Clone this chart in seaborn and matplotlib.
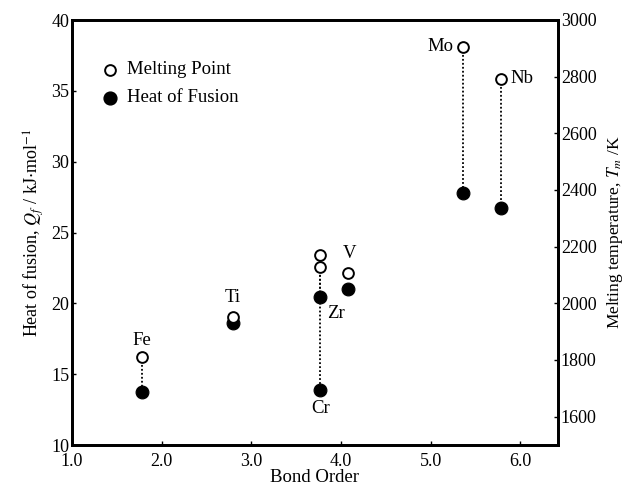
import matplotlib
matplotlib.use("Agg")
import matplotlib.pyplot as plt
import seaborn as sns
import pandas as pd

# ---- data ----
metals = ["Fe", "Ti", "Zr", "Cr", "V", "Mo", "Nb"]
bond_order = [1.78, 2.79, 3.77, 3.77, 4.08, 5.36, 5.78]
heat_of_fusion = [13.74, 18.61, 20.44, 13.88, 21.01, 27.78, 26.73]   # kJ/mol
melting_point = [1810, 1952, 2128, 2171, 2107, 2905, 2792]           # K
linked = ["Fe", "Zr", "Cr", "Mo", "Nb"]   # metals drawn with a dotted connector
x_ticks = [1.0, 2.0, 3.0, 4.0, 5.0, 6.0]
q_ticks = [10, 15, 20, 25, 30, 35, 40]
t_ticks = [1600, 1800, 2000, 2200, 2400, 2600, 2800, 3000]

df = pd.DataFrame({"metal": metals, "bond": bond_order,
                   "Q": heat_of_fusion, "T": melting_point})

sns.set_theme(style="ticks")
plt.rcParams["font.family"] = ["Liberation Serif", "DejaVu Serif"]
plt.rcParams["mathtext.fontset"] = "stix"
for k in ("text.color", "axes.labelcolor", "xtick.color", "ytick.color",
          "axes.edgecolor"):
    plt.rcParams[k] = "black"

fig = plt.figure(figsize=(6.24, 4.87), dpi=100)
ax = fig.add_axes([72/624, 1-445/487, (558-72)/624, (445-20)/487])
ax2 = ax.twinx()

QLIM = (10, 40)
TLIM = (1500, 3000)
ax.set_xlim(1.0, 6.42)
ax.set_ylim(*QLIM)
ax2.set_ylim(*TLIM)

def q_to_t(q):
    return TLIM[0] + (q - QLIM[0]) * (TLIM[1] - TLIM[0]) / (QLIM[1] - QLIM[0])

# dotted connectors
for _, r in df[df.metal.isin(linked)].iterrows():
    ax2.plot([r.bond, r.bond], [r["T"], q_to_t(r.Q)], ls=(0, (1, 1.2)),
             color="black", lw=1.3, zorder=1)

sns.scatterplot(data=df, x="bond", y="Q", ax=ax, s=85, color="black",
                edgecolor="black", linewidth=0.8, zorder=3, legend=False)
sns.scatterplot(data=df, x="bond", y="T", ax=ax2, s=60, facecolor="white",
                edgecolor="black", linewidth=1.4, zorder=4, legend=False)

LBL = 13.5
# element labels
offsets = {"Fe": (0, 12, "center"), "Ti": (0, 14, "center"),
           "Zr": (11, -11.5, "center"), "Cr": (0, -13, "center"),
           "V": (1, 14, "center"), "Mo": (-7, 0, "right"), "Nb": (7, 0, "left")}
for _, r in df.iterrows():
    dx, dy, ha = offsets[r.metal]
    if r.metal in ("Zr", "Cr"):
        src_ax, yv = ax, r.Q
    else:
        src_ax, yv = ax2, r["T"]
    src_ax.annotate(r.metal, (r.bond, yv), xytext=(dx, dy),
                    textcoords="offset points", ha=ha, va="center",
                    fontsize=LBL, zorder=5)

# legend (manual, frameless)
ax.scatter([0.078], [0.882], s=60, facecolor="white", edgecolor="black",
           linewidth=1.4, transform=ax.transAxes, clip_on=False, zorder=5)
ax.scatter([0.078], [0.816], s=85, color="black", transform=ax.transAxes,
           clip_on=False, zorder=5)
ax.text(0.113, 0.884, "Melting Point", transform=ax.transAxes, va="center",
        fontsize=LBL)
ax.text(0.113, 0.818, "Heat of Fusion", transform=ax.transAxes, va="center",
        fontsize=LBL)

ax.set_xticks(x_ticks)
ax.set_xticklabels([f"{v:.1f}" for v in x_ticks])
ax.set_yticks(q_ticks)
ax2.set_yticks(t_ticks)

for a in (ax, ax2):
    a.tick_params(direction="in", length=3, width=1, labelsize=13, pad=2)
    for s in a.spines.values():
        s.set_linewidth(2)
        s.set_visible(True)
ax.tick_params(axis="x", pad=6)

ax.set_xlabel("Bond Order", fontsize=13.5, labelpad=-1)
ax.set_ylabel(r"Heat of fusion, $Q_f$ / kJ$\cdot$mol$^{-1}$", fontsize=13,
              labelpad=4)
ax2.set_ylabel(r"Melting temperature, $T_m$ /K", fontsize=12.5, labelpad=6)

fig.savefig("out.png", dpi=100, facecolor="white")
